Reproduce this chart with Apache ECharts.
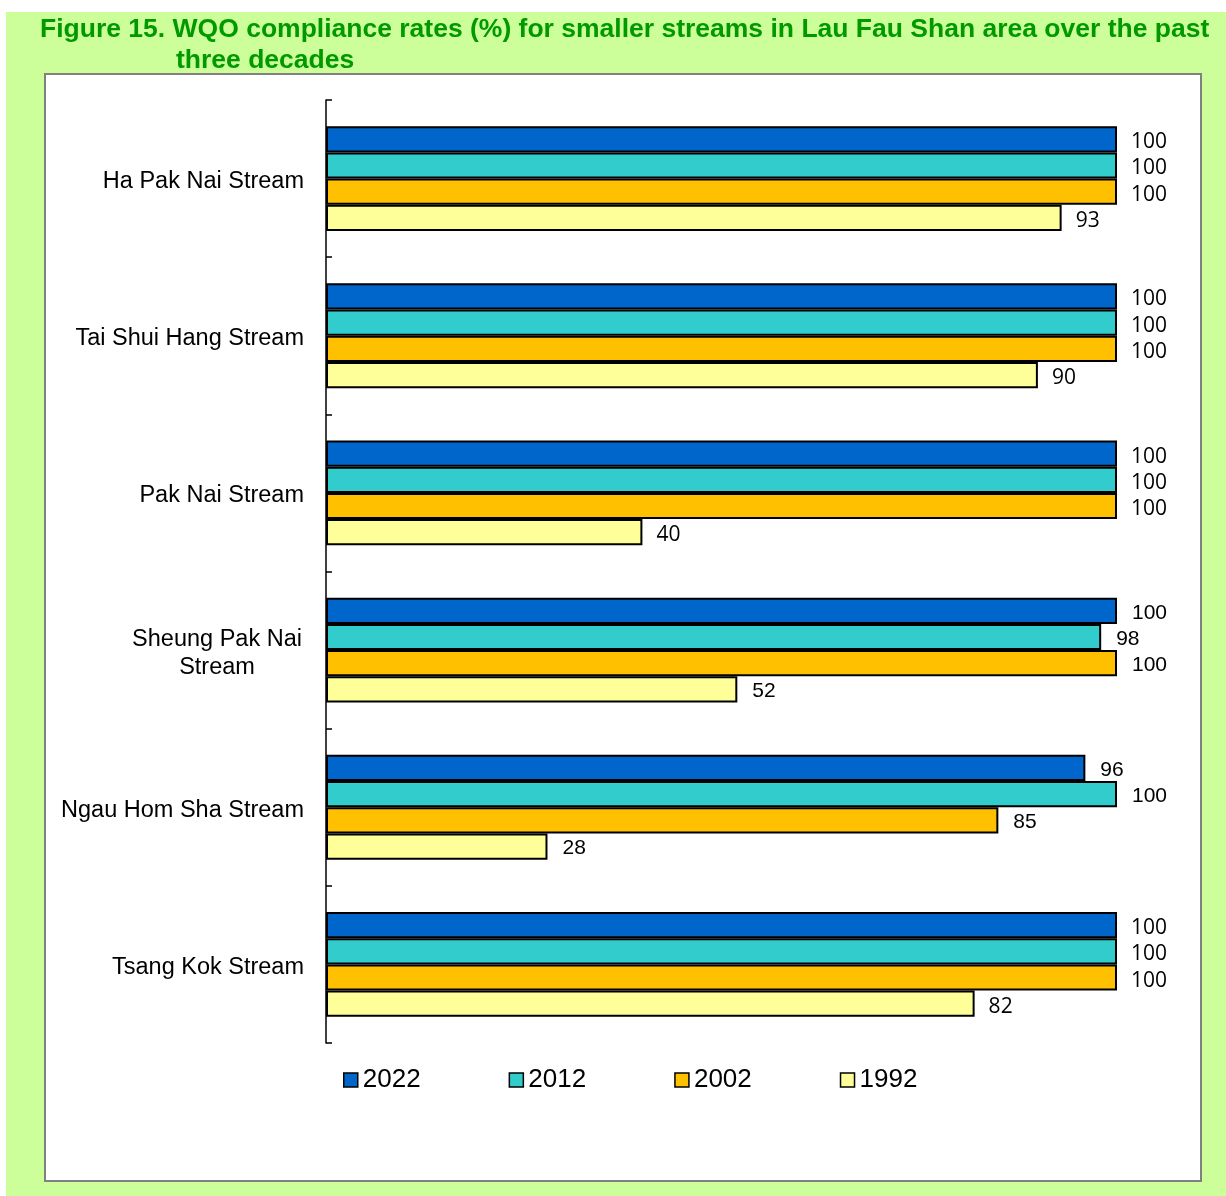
<!DOCTYPE html>
<html>
<head>
<meta charset="utf-8">
<style>
  html, body { margin: 0; padding: 0; background: #ffffff; }
  #chart { width: 1226px; height: 1196px; }
</style>
<script src="https://cdn.jsdelivr.net/npm/echarts@6/dist/echarts.min.js"></script>
</head>
<body>
<div id="chart"></div>
<script>
// Streams, top to bottom
const streams = [
  'Ha Pak Nai Stream',
  'Tai Shui Hang Stream',
  'Pak Nai Stream',
  'Sheung Pak Nai Stream',
  'Ngau Hom Sha Stream',
  'Tsang Kok Stream'
];

// Compliance rates (%) per survey year
const years = ['2022', '2012', '2002', '1992'];
const rate2022 = [100, 100, 100, 100, 96, 100];
const rate2012 = [100, 100, 100, 98, 100, 100];
const rate2002 = [100, 100, 100, 100, 85, 100];
const rate1992 = [93, 90, 40, 52, 28, 82];

const yearColors = ['#0066CC', '#33CCCC', '#FFC000', '#FFFF99'];

// Streams whose value labels are set in Arial rather than the default face
const arialLabelStreams = ['Sheung Pak Nai Stream', 'Ngau Hom Sha Stream'];

function seriesData(values) {
  return values.map((v, i) => {
    const item = { value: v };
    if (arialLabelStreams.includes(streams[i])) {
      item.label = { fontFamily: 'Liberation Sans, Arial', fontSize: 21, distance: 15, offset: [0, 2] };
    }
    return item;
  });
}

const chart = echarts.init(document.getElementById('chart'), null, { renderer: 'canvas' });

const allValues = [rate2022, rate2012, rate2002, rate1992];

const option = {
  animation: false,
  backgroundColor: '#CCFF99',
  graphic: [
    { type: 'rect', left: 0, top: 0, shape: { width: 1226, height: 12 }, style: { fill: '#ffffff' }, z: -10 },
    { type: 'rect', left: 0, top: 0, shape: { width: 6, height: 1196 }, style: { fill: '#ffffff' }, z: -10 },
    // white plot panel with grey frame and soft shadow
    { type: 'rect', left: 46, top: 75, shape: { width: 1156, height: 1107 }, style: { fill: '#9a9a9a' }, z: -9 },
    { type: 'rect', left: 44, top: 73, shape: { width: 1156, height: 1107 }, style: { fill: '#ffffff', stroke: '#808080', lineWidth: 2 }, z: -8 },
    {
      type: 'text', left: 40, top: 16, z: 10,
      style: {
        text: 'Figure 15. WQO compliance rates (%) for smaller streams in Lau Fau Shan area over the past',
        font: 'bold 26.5px "Liberation Sans", Arial', fill: '#009900'
      }
    },
    {
      type: 'text', left: 176, top: 47, z: 10,
      style: { text: 'three decades', font: 'bold 26.5px "Liberation Sans", Arial', fill: '#009900' }
    }
  ],
  legend: {
    data: years,
    left: 343,
    top: 1067,
    padding: 0,
    orient: 'horizontal',
    itemWidth: 14,
    itemHeight: 14,
    itemGap: 88,
    icon: 'rect',
    textStyle: { fontFamily: 'Liberation Sans, Arial', fontSize: 26, color: '#000' },
    itemStyle: { borderColor: '#000', borderWidth: 1.5 }
  },
  grid: { left: 326, right: 109, top: 100, bottom: 153, containLabel: false },
  xAxis: {
    type: 'value', min: 0, max: 100, show: false
  },
  yAxis: {
    type: 'category',
    data: streams,
    inverse: true,
    axisLine: { show: true, lineStyle: { color: '#000', width: 1.5 } },
    axisTick: { show: true, inside: true, length: 6, lineStyle: { color: '#000', width: 1.5 } },
    axisLabel: {
      color: '#000',
      fontFamily: 'Liberation Sans, Arial',
      fontSize: 23.5,
      margin: 22,
      lineHeight: 28,
      padding: [6, 0, 0, 0],
      formatter: function (name) {
        if (name === 'Sheung Pak Nai Stream') {
          return '{c|Sheung Pak Nai}\n{c|Stream}';
        }
        return name;
      },
      rich: {
        c: { width: 174, align: 'center', fontFamily: 'Liberation Sans, Arial', fontSize: 23.5, lineHeight: 28, color: '#000' }
      }
    }
  },
  series: years.map((y, k) => ({
    name: y,
    type: 'bar',
    data: seriesData(allValues[k]),
    barGap: '0%',
    barCategoryGap: '33.3%',
    itemStyle: { color: yearColors[k], borderColor: '#000', borderWidth: 2 },
    label: {
      show: true,
      position: 'right',
      distance: 14,
      offset: [0, 3],
      color: '#000',
      fontFamily: 'Open Sans, Noto Sans, sans-serif',
      fontSize: 21
    }
  }))
};

chart.setOption(option);
</script>
</body>
</html>
